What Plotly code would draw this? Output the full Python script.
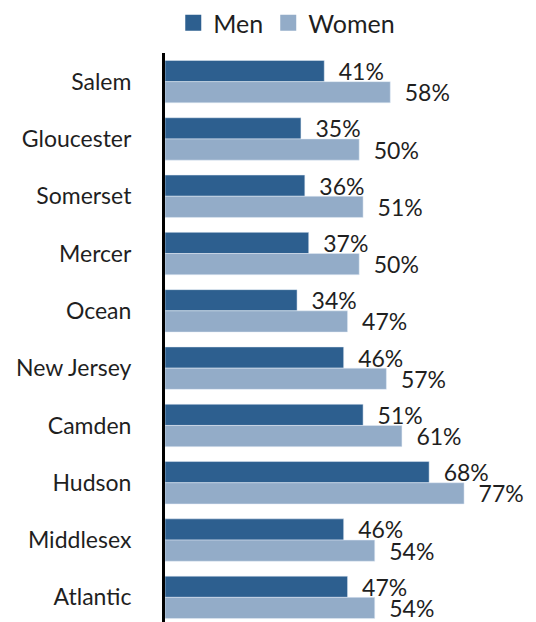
import plotly.graph_objects as go

# County comparison, men vs women (percent)
counties = ["Salem", "Gloucester", "Somerset", "Mercer", "Ocean",
            "New Jersey", "Camden", "Hudson", "Middlesex", "Atlantic"]
men = [41, 35, 36, 37, 34, 46, 51, 68, 46, 47]
women = [58, 50, 51, 50, 47, 57, 61, 77, 54, 54]

MEN_COLOR = "#2D5F8F"
WOMEN_COLOR = "#93ACC8"
TEXT_COLOR = "#1f1f1f"
FONT = "Lato, Open Sans, sans-serif"
LABEL_SIZE = 23

fig = go.Figure()
for name, vals, color in [("Men", men, MEN_COLOR), ("Women", women, WOMEN_COLOR)]:
    fig.add_trace(go.Bar(
        y=counties, x=vals, name=name, orientation="h",
        marker_color=color, showlegend=False,
        text=[f"\u2002{v}%" for v in vals], textposition="outside",
        textfont=dict(size=LABEL_SIZE, color=TEXT_COLOR), cliponaxis=False,
    ))

# legend entries with larger square swatches
for name, color in [("Men", MEN_COLOR), ("Women", WOMEN_COLOR)]:
    fig.add_trace(go.Scatter(
        x=[None], y=[None], mode="markers", name=name,
        marker=dict(symbol="square", size=16, color=color),
    ))

fig.update_layout(
    width=536, height=622,
    margin=dict(l=165, r=2, t=53, b=0),
    paper_bgcolor="white", plot_bgcolor="white",
    barmode="group", bargap=0.26, bargroupgap=0,
    font=dict(family=FONT, size=21, color=TEXT_COLOR),
    legend=dict(orientation="h", x=0.535, xanchor="center", y=1.0,
                xref="container", yref="container", yanchor="top",
                font=dict(size=25), itemwidth=30, traceorder="normal",
                tracegroupgap=0),
    uniformtext=dict(minsize=LABEL_SIZE, mode="show"),
)
fig.update_xaxes(range=[0, 95], visible=False, showgrid=False)
fig.update_yaxes(
    range=[9.43, -0.5], showgrid=False, ticks="",
    showline=True, linecolor="black", linewidth=3,
    ticklabelstandoff=26, tickfont=dict(size=23),
)

fig.write_html("out.html")
